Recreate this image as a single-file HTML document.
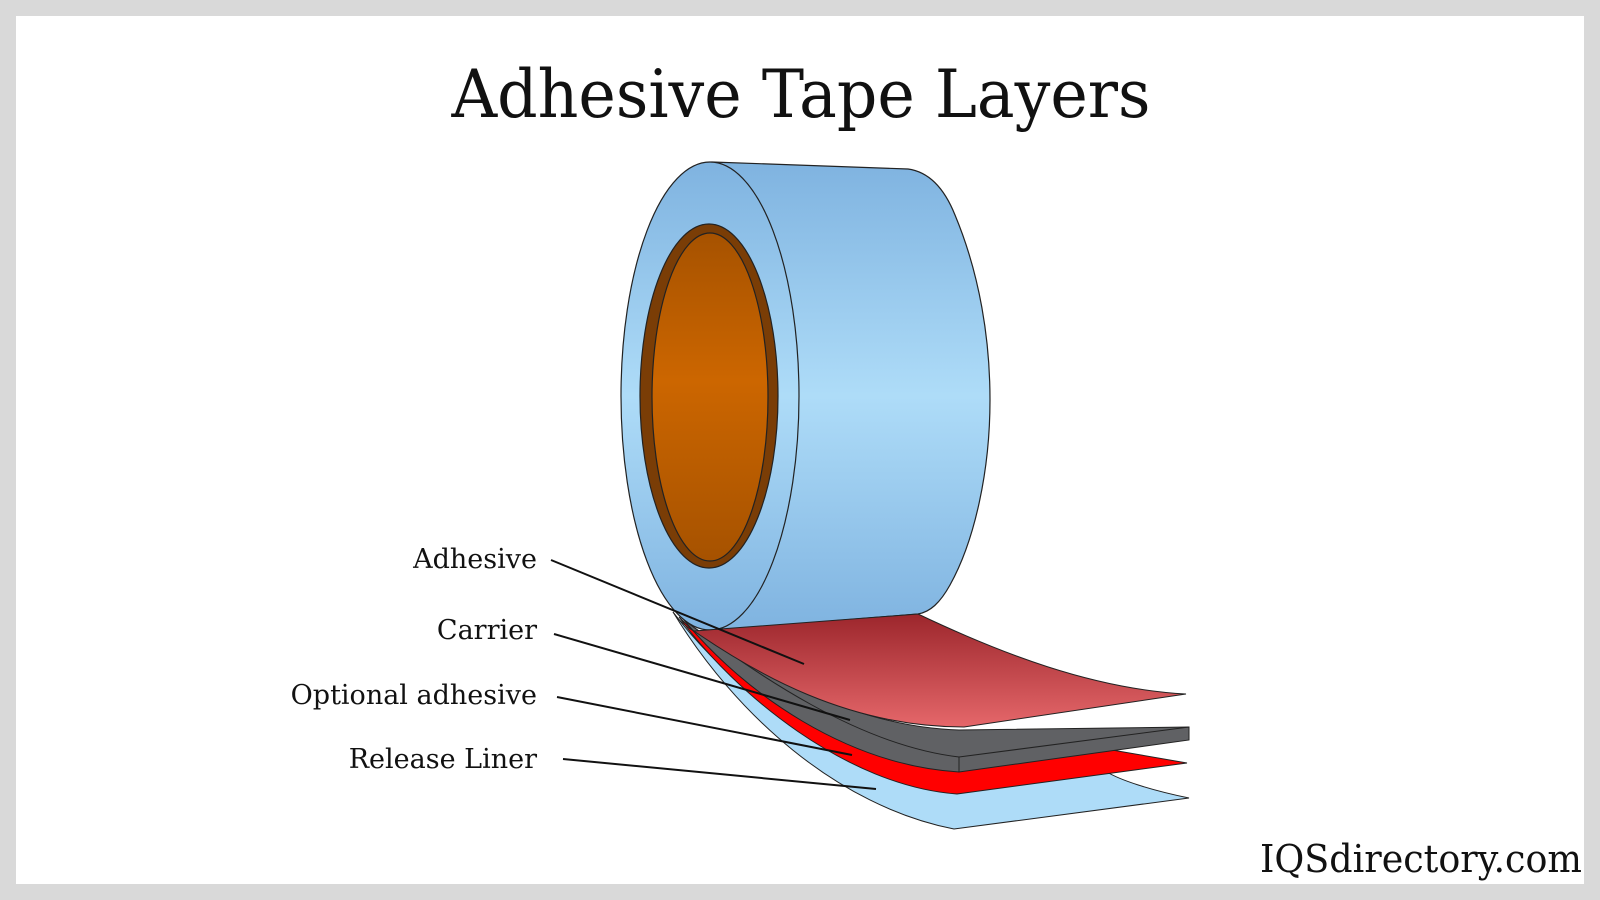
<!DOCTYPE html>
<html><head><meta charset="utf-8"><style>
html,body{margin:0;padding:0;width:1600px;height:900px;overflow:hidden;background:#d9d9d9}
svg{display:block}
</style></head><body>
<svg width="1600" height="900" viewBox="0 0 1600 900" xmlns="http://www.w3.org/2000/svg">
<defs>
<linearGradient id="blue" x1="0" y1="0" x2="0" y2="1">
<stop offset="0" stop-color="#7fb3e0"/><stop offset="0.5" stop-color="#aedcf8"/><stop offset="1" stop-color="#7fb3e0"/>
</linearGradient>
<linearGradient id="orange" x1="0" y1="0" x2="0" y2="1">
<stop offset="0" stop-color="#a65200"/><stop offset="0.45" stop-color="#cc6600"/><stop offset="1" stop-color="#a65200"/>
</linearGradient>
<linearGradient id="redg" x1="0" y1="0" x2="0" y2="1">
<stop offset="0" stop-color="#9c262c"/><stop offset="1" stop-color="#e5676a"/>
</linearGradient>
</defs>
<rect x="16" y="16" width="1568" height="868" fill="#ffffff"/>
<text x="801" y="117" text-anchor="middle" font-family="DejaVu Serif, Liberation Serif, serif" font-size="66" fill="#111" textLength="699" lengthAdjust="spacingAndGlyphs">Adhesive Tape Layers</text>

<!-- layers -->
<path d="M673,612 C735,714 837,806 954,829 L1189,798 C1150,790 1120,780 1107,772 L959,786 C847,776 735,694 673,612 Z" fill="#aedcf8" stroke="#222" stroke-width="1"/>
<path d="M679,617 C735,694 847,786 957,794 L1187,763 L1112,750 L959,760 C847,750 735,673 679,617 Z" fill="#ff0000" stroke="#222" stroke-width="1"/>
<path d="M684,620 C755,673 857,727 959,730 L1189,727 L1189,740 L959,772 C847,765 745,694 684,620 Z" fill="#606164" stroke="#222" stroke-width="1"/>
<line x1="959" y1="757" x2="959" y2="772" stroke="#222" stroke-width="1"/>
<path d="M684,620 C755,673 857,745 959,757 L1189,727" fill="none" stroke="#222" stroke-width="1"/>

<!-- roll body -->
<path d="M712,162 L908,169 C930,172 945,190 955,215 C980,275 990,340 990,400 C990,470 975,540 950,585 C940,603 930,612 918,614 L722,630 Z" fill="url(#blue)" stroke="#222" stroke-width="1.2"/>
<ellipse cx="710" cy="396" rx="89" ry="234" fill="url(#blue)" stroke="#222" stroke-width="1.2"/>
<ellipse cx="709" cy="396" rx="69" ry="172" fill="#7a3d06" stroke="#222" stroke-width="1.2"/>
<ellipse cx="710" cy="397" rx="58" ry="164" fill="url(#orange)" stroke="#222" stroke-width="1.2"/>

<!-- adhesive top -->
<path d="M694,631 L918,614 C1000,653 1092,689 1186,694 L964,727 C847,727 755,673 694,631 Z" fill="url(#redg)" stroke="#222" stroke-width="1"/>
<path d="M673,612 C680,622 688,628 694,631" fill="none" stroke="#222" stroke-width="1"/>

<!-- leaders -->
<g stroke="#111" stroke-width="2">
<line x1="551" y1="560" x2="804" y2="664"/>
<line x1="554" y1="634" x2="850" y2="720"/>
<line x1="557" y1="697" x2="852" y2="755"/>
<line x1="563" y1="759" x2="876" y2="789"/>
</g>
<g font-family="DejaVu Serif, Liberation Serif, serif" font-size="27" fill="#111" text-anchor="end">
<text x="537" y="568">Adhesive</text>
<text x="537" y="639">Carrier</text>
<text x="537" y="704">Optional adhesive</text>
<text x="537" y="768">Release Liner</text>
</g>
<text x="1582" y="872" text-anchor="end" font-family="DejaVu Serif, Liberation Serif, serif" font-size="38" fill="#111" textLength="322" lengthAdjust="spacingAndGlyphs">IQSdirectory.com</text>
</svg>
</body></html>
